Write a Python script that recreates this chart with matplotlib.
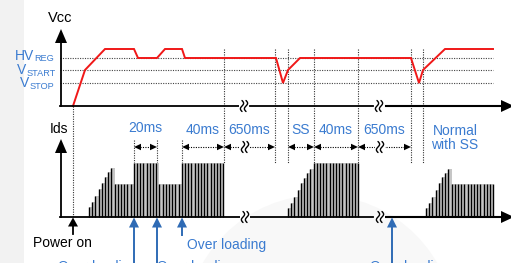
import matplotlib
matplotlib.use('Agg')
import matplotlib.pyplot as plt
from matplotlib.patches import Polygon, Rectangle, Circle
import numpy as np

plt.rcParams['font.family'] = ['Liberation Sans', 'DejaVu Sans']

# ---------------- data ----------------
# Vcc waveform: time (schematic units) and level above the Vcc axis
vcc_time = [73, 85, 105, 134, 138, 157, 165, 182, 185, 276, 283, 288, 300, 411, 419, 423, 445, 493]
vcc_level = [0, 36, 57, 57, 48, 48, 57, 57, 48, 48, 23, 36, 48, 48, 23, 36, 57, 57]

threshold_main = ['HV', 'V', 'V']
threshold_sub = ['REG', 'START', 'STOP']
threshold_levels = [48, 36, 23]

# Ids switching bursts: start time, pulse pitch, pulse heights
ids_pitch = 3.2
burst_starts = [89, 288, 426]
burst1 = [10, 15, 21, 28, 34, 40, 45, 49] + [33] * 6 + [54] * 8 + [33] * 7 + [54] * 14
burst2 = [9, 14, 20, 27, 34, 39, 44, 48] + [54] * 15
burst3 = [9, 14, 20, 27, 34, 40, 44, 48] + [33] * 14
bursts = [burst1, burst2, burst3]

# timing spans
span_start = [134, 182, 224, 288, 314, 358]
span_end = [157, 224, 275, 314, 358, 411]
span_label = ['20ms', '40ms', '650ms', 'SS', '40ms', '650ms']

# marker lines
upper_marks = [224, 275, 288, 314, 358, 411, 423]
lower_marks = [134, 157, 182]
break_times = [244, 379]

# events
event_time = [73, 134, 157, 182, 392]
event_label = ['Power on', 'Over loading', 'Over loading', 'Over loading', 'Over loading']

# ---------------- layout ----------------
W, H = 511, 263
VB = 157      # Vcc axis
IB = 46       # Ids axis
DIM_Y = 116
BLUE_T = '#3a7bd0'
BLUE_A = '#2f6bb5'
RED = '#f01818'

fig = plt.figure(figsize=(W / 100, H / 100), dpi=100)
ax = fig.add_axes([0, 0, 1, 1])
ax.set_xlim(0, W)
ax.set_ylim(0, H)
ax.axis('off')

# faint background shapes
ax.add_patch(Rectangle((0, 0), 24, H, color='#f2f2f2', lw=0, zorder=0))
ax.add_patch(Circle((320, -67), 135, color='#f8f8f8', lw=0, zorder=0))


def head(x, y, dx, dy, length, width, color, z=6):
    d = np.array([dx, dy], float)
    d /= np.linalg.norm(d)
    p = np.array([-d[1], d[0]])
    tip = np.array([x, y])
    base = tip - d * length
    ax.add_patch(Polygon([tip, base + p * width / 2, base - p * width / 2],
                         closed=True, color=color, lw=0, zorder=z))


def brk(x, y):
    ax.add_patch(Rectangle((x - 5, y - 2.5), 10, 5, color='white', lw=0, zorder=7))
    t = np.linspace(-1, 1, 40)
    for dx in (-2.0, 2.0):
        ax.plot(x + dx + 1.6 * np.sin(np.pi * t), y + 5.5 * t, color='black',
                lw=1.0, zorder=8, solid_capstyle='round')


# threshold dotted lines
for lv in threshold_levels:
    ax.plot([60, 493], [VB + lv, VB + lv], ls=(0, (1, 1.2)), color='#444444', lw=0.8, zorder=1)

# vertical dotted marker lines
for x in upper_marks:
    ax.plot([x, x], [VB + 57, IB + 54], ls=(0, (1, 1.2)), color='#333333', lw=0.8, zorder=1)
for x in lower_marks:
    ax.plot([x, x], [IB + 77, IB + 54], ls=(0, (1, 1.2)), color='#333333', lw=0.8, zorder=1)
ax.plot([event_time[0]] * 2, [VB, IB], ls=(0, (1, 1.2)), color='#333333', lw=0.8, zorder=1)

# Ids bursts
for start, hs in zip(burst_starts, bursts):
    xs = start + ids_pitch * np.arange(len(hs))
    ax.bar(xs[:-1], hs[:-1], width=ids_pitch, bottom=IB, align='edge',
           color='#c6c6c6', lw=0, zorder=2)
    ax.vlines(xs, IB, IB + np.array(hs), color='black', lw=1.0, zorder=3)

# Vcc waveform
ax.plot(vcc_time, VB + np.array(vcc_level), color=RED, lw=1.4, zorder=4,
        solid_joinstyle='miter')

# axes
for base, top in ((VB, 234), (IB, 124)):
    ax.plot([61, 61], [base, top - 10], color='black', lw=1.3, zorder=5)
    head(61, top, 0, 1, 14, 12, 'black')
    ax.plot([60, 240], [base, base], color='black', lw=1.3, zorder=5)
    ax.plot([250, 373], [base, base], color='black', lw=1.3, zorder=5)
    ax.plot([386, 503], [base, base], color='black', lw=1.5, zorder=5)
    head(514, base, 1, 0, 13, 12, 'black')
    for bx in break_times:
        brk(bx + (1 if base == IB else 0), base)

# labels on axes
ax.text(60, 241.5, 'Vcc', fontsize=10.5, ha='center', va='baseline', color='black')
ax.text(59, 130, 'Ids', fontsize=10, ha='center', va='baseline', color='black')
for main, sub, xs, yb in zip(threshold_main, threshold_sub, [34, 26, 29], [203.5, 188.5, 176]):
    ax.text(xs, yb, main, fontsize=10, ha='right', va='baseline', color=BLUE_T)
    ax.text(xs + 0.3, yb - 1.7, sub, fontsize=6.6, ha='left', va='baseline', color=BLUE_T)

# timing spans
for s, e, lab in zip(span_start, span_end, span_label):
    ax.plot([s + 6, e - 6], [DIM_Y, DIM_Y], ls=(0, (1, 1.2)), color='black', lw=0.8, zorder=5)
    head(s, DIM_Y, -1, 0, 7, 6.5, 'black')
    head(e, DIM_Y, 1, 0, 7, 6.5, 'black')
    ax.text((s + e) / 2, 129.5 + (1.5 if lab == '20ms' else 0), lab, fontsize=10,
            ha='center', va='baseline', color=BLUE_T)
for bx in break_times:
    brk(bx + 1, DIM_Y)

ax.text(455, 128, 'Normal', fontsize=10, ha='center', va='baseline', color=BLUE_T)
ax.text(455, 114, 'with SS', fontsize=10, ha='center', va='baseline', color=BLUE_T)

# events
ax.plot([event_time[0]] * 2, [29, IB - 8], color='black', lw=1.3, zorder=5)
head(event_time[0], IB - 0.5, 0, 1, 9, 10, 'black')
ax.text(62, 16, event_label[0], fontsize=10, ha='center', va='baseline', color='black')

blue_bottom = [None, -2, -2, 28, -2]
for i in range(1, len(event_time)):
    x = event_time[i]
    ax.plot([x, x], [blue_bottom[i], IB - 8], color=BLUE_A, lw=1.4, zorder=5)
    head(x, IB - 0.5, 0, 1, 10, 10, BLUE_A)

ax.text(137, -7.5, event_label[1], fontsize=10, ha='right', va='baseline', color=BLUE_T)
ax.text(157, -7.5, event_label[2], fontsize=10, ha='left', va='baseline', color=BLUE_T)
ax.text(187, 14, event_label[3], fontsize=10, ha='left', va='baseline', color=BLUE_T)
ax.text(370, -7.5, event_label[4], fontsize=10, ha='left', va='baseline', color=BLUE_T)

fig.savefig('out.png', dpi=100)
